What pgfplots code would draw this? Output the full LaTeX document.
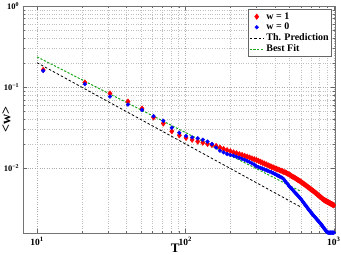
\documentclass[border=0pt]{standalone}
\usepackage{fontspec}
\setmainfont{Liberation Serif}
\usepackage{pgfplots}
\usepackage{pgfplotstable}
\pgfplotsset{compat=1.18}
\definecolor{fitgreen}{rgb}{0.1,0.65,0.1}
\pgfplotstableread{
T w1 w0
11 0.163 0.159
21 0.114 0.109
31 0.0834 0.0766
41 0.0664 0.0610
51 0.0545 0.0525
61 0.0424 0.0438
71 0.0357 0.0385
81 0.0286 0.0316
91 0.0255 0.0274
101 0.0237 0.0250
111 0.0225 0.0240
121 0.0214 0.0234
131 0.0207 0.0225
141 0.0200 0.0213
151 0.0194 0.0199
161 0.0188 0.0180
171 0.0180 0.0165
181 0.0173 0.0157
191 0.0167 0.0150
201 0.0162 0.0146
211 0.0157 0.0143
221 0.0153 0.0139
231 0.0149 0.0135
241 0.01456 0.0131
251 0.0142 0.0127
261 0.0139 0.0123
271 0.01354 0.0119
281 0.01322 0.0115
291 0.01293 0.0111
301 0.01263 0.0106
311 0.01233 0.01035
321 0.01201 0.01011
331 0.01171 0.00989
341 0.01142 0.00967
351 0.01115 0.00947
361 0.01089 0.00928
371 0.01064 0.0091
381 0.01043 0.00892
391 0.01023 0.00871
401 0.01003 0.0085
411 0.00985 0.00831
421 0.00967 0.00812
431 0.0095 0.00794
441 0.00934 0.00777
451 0.00918 0.00761
461 0.00903 0.00732
471 0.00888 0.00696
481 0.00874 0.00663
491 0.00856 0.00632
501 0.00837 0.00602
511 0.00819 0.00578
521 0.00801 0.00556
531 0.00785 0.00536
541 0.00769 0.00516
551 0.00753 0.00498
561 0.00738 0.0048
571 0.00724 0.00464
581 0.0071 0.00448
591 0.00697 0.00433
601 0.00682 0.00417
611 0.00667 0.00401
621 0.00652 0.00385
631 0.00638 0.0037
641 0.00625 0.00356
651 0.00612 0.00343
661 0.00599 0.0033
671 0.00587 0.00318
681 0.00575 0.00307
691 0.00564 0.00296
701 0.00553 0.00288
711 0.00542 0.00278
721 0.00532 0.0027
731 0.00522 0.00262
741 0.00511 0.00255
751 0.00501 0.00247
761 0.00491 0.00241
771 0.00481 0.00234
781 0.00471 0.00228
791 0.00462 0.00222
801 0.00453 0.00216
811 0.00445 0.0021
821 0.00437 0.00204
831 0.00428 0.00199
841 0.00421 0.00193
851 0.00413 0.00188
861 0.00407 0.00182
871 0.00402 0.00177
881 0.00398 0.00173
891 0.00393 0.00168
901 0.00389 0.00164
911 0.00385 0.00162
921 0.0038 0.00161
931 0.00376 0.00161
941 0.00372 0.00161
951 0.00368 0.00161
961 0.00364 0.00161
971 0.00361 0.00161
981 0.00357 0.00161
991 0.00353 0.00161
1001 0.0035 0.00161
}\datatab
\begin{document}
\begin{tikzpicture}
\begin{axis}[
  at={(0pt,0pt)}, anchor=south west,
  scale only axis, width=312.3pt, height=227.3pt,
  xmode=log, ymode=log,
  xmin=8, xmax=1020, ymin=0.00158, ymax=1,
  xtick={10,100,1000},
  xticklabels={10\textsuperscript{1},10\textsuperscript{2},10\textsuperscript{3}},
  ytick={0.01,0.1,1},
  yticklabels={10\textsuperscript{−2},10\textsuperscript{−1},10\textsuperscript{0}},
  x tick label style={font=\fontsize{9.5}{10}\selectfont\bfseries},
  y tick label style={font=\fontsize{8.5}{10}\selectfont\bfseries},
  tick align=inside, major tick length=4pt, minor tick length=2pt,
  tick style={black!60},
  axis line style={black!55},
  grid=both,
  major grid style={dotted, black!32},
  minor grid style={dotted, black!25},
  xlabel={T}, ylabel={<w>},
  xlabel style={at={(axis description cs:0.488,-0.066)}, anchor=center, font=\fontsize{13}{13}\selectfont\bfseries},
  ylabel style={at={(axis description cs:-0.052,0.5)}, anchor=center, font=\fontsize{14}{14}\selectfont\bfseries},
  legend image code/.code={\draw[mark repeat=2,mark phase=2,#1] plot coordinates {(0cm,0cm)(0.25cm,0cm)(0.5cm,0cm)};},
  legend style={at={(0.99,0.985)}, anchor=north east, draw=black!60, fill=white,
    font=\fontsize{10}{11}\selectfont\bfseries, inner sep=1pt, row sep=-1.5pt,
    cells={anchor=west}},
]
\addplot[only marks, mark=diamond*, mark size=2.8pt, color=red] table[x=T, y=w1] {\datatab};
\addlegendentry{w = 1}
\addplot[only marks, mark=*, mark size=1.9pt, color=blue] table[x=T, y=w0] {\datatab};
\addlegendentry{w = 0}
\addplot[black, line width=0.8pt, dash pattern=on 2.5pt off 2pt] coordinates {(10,0.2) (600,0.00333)};
\addlegendentry{Th. Prediction}
\addplot[fitgreen, line width=1pt, dash pattern=on 2.2pt off 1.6pt] coordinates {(10,0.236) (600,0.0052)};
\addlegendentry{Best Fit}
\end{axis}
\pgfresetboundingbox
\path[use as bounding box] (-22.7pt,-21.7pt) rectangle (318.3pt,233.3pt);
\end{tikzpicture}
\end{document}
